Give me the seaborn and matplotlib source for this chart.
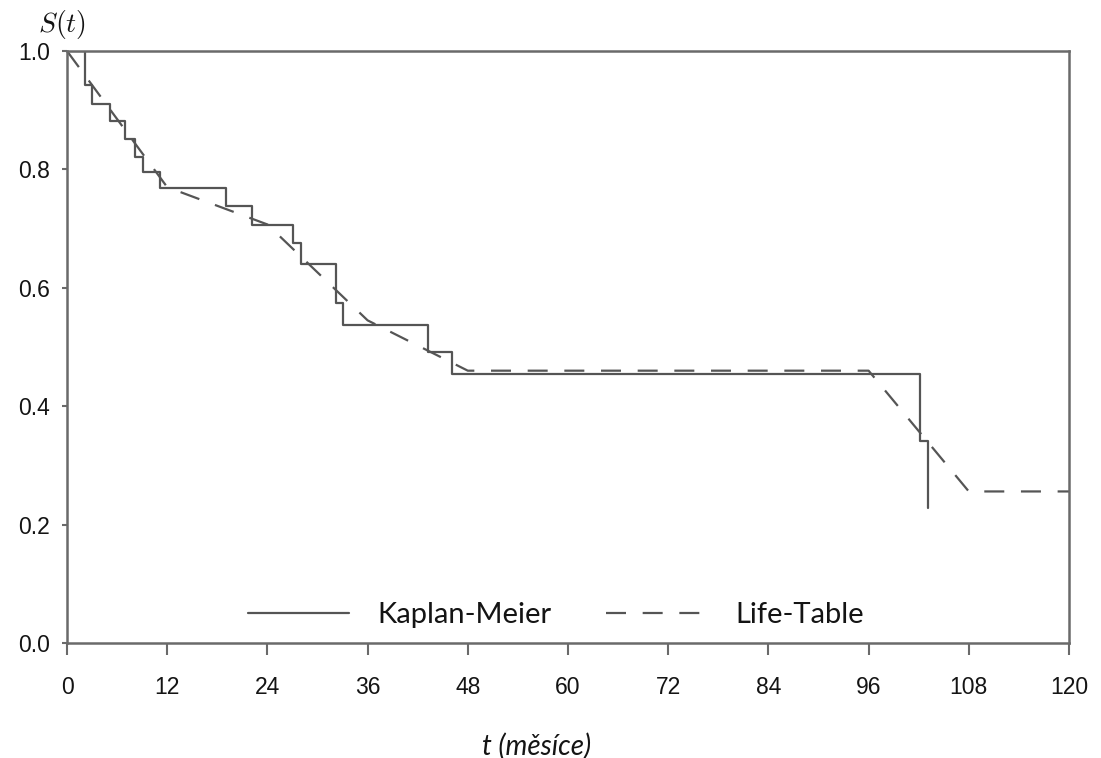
import matplotlib
matplotlib.use("Agg")
import matplotlib.pyplot as plt
import seaborn as sns
import pandas as pd

# Kaplan-Meier estimate (event times in months, survival after each step)
km_time = [0, 2.1, 3.0, 5.1, 7.0, 8.1, 9.1, 11.1, 19.1, 22.1, 27.1, 28.0,
           32.2, 33.1, 43.2, 46.1, 102.1, 103.1]
km_surv = [1.0, 0.942, 0.911, 0.881, 0.852, 0.821, 0.796, 0.769, 0.739, 0.706,
           0.675, 0.641, 0.574, 0.537, 0.492, 0.454, 0.341, 0.228]

# Life-table estimate at interval boundaries (12-month intervals)
lt_time = [0, 12, 24, 36, 48, 60, 72, 84, 96, 108, 120]
lt_surv = [1.0, 0.770, 0.707, 0.545, 0.460, 0.460, 0.460, 0.460, 0.460, 0.256, 0.256]

x_ticks = [0, 12, 24, 36, 48, 60, 72, 84, 96, 108, 120]
y_ticks = [0.0, 0.2, 0.4, 0.6, 0.8, 1.0]

km = pd.DataFrame({"t": km_time, "S": km_surv})
lt = pd.DataFrame({"t": lt_time, "S": lt_surv})

sns.set_theme(style="ticks")
plt.rcParams["font.family"] = ["Liberation Sans", "DejaVu Sans"]
plt.rcParams["mathtext.fontset"] = "cm"

line_col = "#555555"
frame_col = "#6a6a6a"
text_col = "#141414"

W, H = 1101, 758
L, R, T, B = 67, 1069, 51, 643
fig = plt.figure(figsize=(W / 100, H / 100), dpi=100)
ax = fig.add_axes([L / W, 1 - B / H, (R - L) / W, (B - T) / H])

sns.lineplot(data=km, x="t", y="S", ax=ax, color=line_col, lw=1.6,
             drawstyle="steps-post", label="Kaplan-Meier", estimator=None)
sns.lineplot(data=lt, x="t", y="S", ax=ax, color=line_col, lw=1.6,
             linestyle=(0, (9, 7.5)), label="Life-Table", estimator=None)

ax.set_xlim(0, 120)
ax.set_ylim(0, 1.0)
ax.set_xticks(x_ticks)
ax.set_yticks(y_ticks)
ax.set_xticklabels([str(v) for v in x_ticks])
ax.set_yticklabels([f"{v:.1f}" for v in y_ticks])

for sp in ax.spines.values():
    sp.set_visible(True)
    sp.set_color(frame_col)
    sp.set_linewidth(1.8)

ax.tick_params(axis="both", direction="out", width=1.5, color=frame_col,
               labelsize=16.5, labelcolor=text_col)
ax.tick_params(axis="x", length=8.6, pad=15)
ax.tick_params(axis="y", length=3.6, pad=8.5)

ax.set_xlabel("t (měsíce)", fontsize=20, fontstyle="italic",
              family=["Lato", "DejaVu Sans"], color=text_col, va="center")
ax.xaxis.set_label_coords((537 - L) / (R - L), -(746 - B) / (B - T))
ax.set_ylabel("")
ax.text(-0.005, 1.017, r"$S(t)$", transform=ax.transAxes, fontsize=20,
        ha="center", va="bottom", color=text_col)

leg = ax.legend(loc="center left",
                bbox_to_anchor=((248 - L) / (R - L), (B - 615) / (B - T)),
                ncol=2, frameon=False, borderpad=0, borderaxespad=0,
                handlelength=3.45, handletextpad=1.0, columnspacing=1.85,
                prop={"family": ["Lato", "DejaVu Sans"], "size": 21})
for t in leg.get_texts():
    t.set_color(text_col)

fig.savefig("out.png", dpi=100)
